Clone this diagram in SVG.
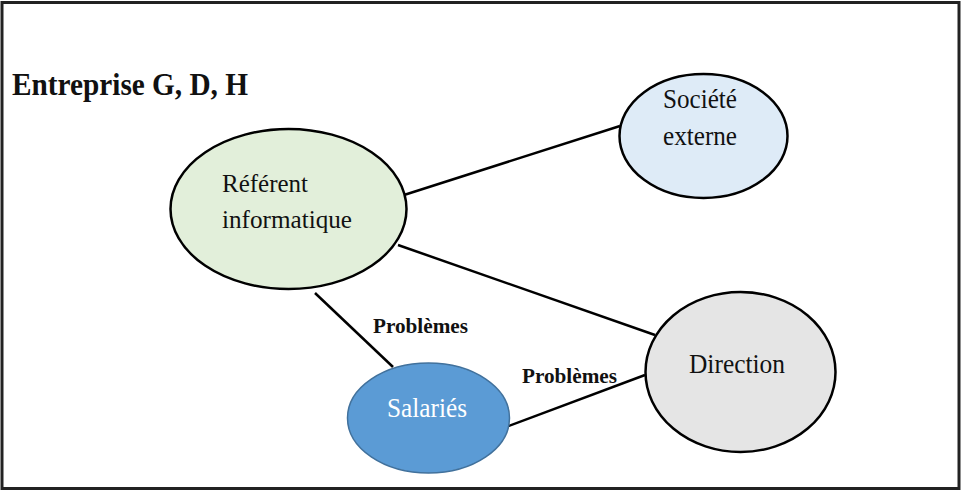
<svg xmlns="http://www.w3.org/2000/svg" width="962" height="491" viewBox="0 0 962 491">
<style>
.node{stroke:#000;stroke-width:2.5}
.edge{stroke:#000;stroke-width:2.5;fill:none}
text{font-family:'Liberation Serif',serif;fill:#111}
.pb{font-weight:bold;font-size:21px}
</style>
<rect x="2" y="2.5" width="957" height="486" fill="#fff" stroke="#222" stroke-width="3"/>
<text x="12" y="95" font-family="Liberation Serif, serif" font-weight="bold" font-size="31" textLength="236" lengthAdjust="spacingAndGlyphs">Entreprise G, D, H</text>
<g id="connectors">
<line class="edge" x1="404" y1="195" x2="620" y2="126"/>
<line class="edge" x1="398" y1="245" x2="655" y2="335"/>
<line class="edge" x1="315" y1="293" x2="393" y2="367"/>
<line class="edge" x1="506" y1="427" x2="645" y2="375"/>
<text class="pb" font-family="Liberation Serif, serif" x="373" y="333" textLength="95" lengthAdjust="spacingAndGlyphs">Problèmes</text>
<text class="pb" font-family="Liberation Serif, serif" x="522" y="383" textLength="95" lengthAdjust="spacingAndGlyphs">Problèmes</text>
</g>
<g id="referent">
<ellipse class="node" cx="288.5" cy="209" rx="118" ry="80" fill="#E2EFDA"/>
<text font-family="Liberation Serif, serif" x="222" y="192" font-size="26" textLength="86" lengthAdjust="spacingAndGlyphs">Référent</text>
<text font-family="Liberation Serif, serif" x="222" y="228" font-size="26" textLength="130" lengthAdjust="spacingAndGlyphs">informatique</text>
</g>
<g id="societe">
<ellipse class="node" cx="703.5" cy="136" rx="84" ry="62" fill="#DEEBF7"/>
<text font-family="Liberation Serif, serif" x="663" y="108" font-size="27" textLength="74" lengthAdjust="spacingAndGlyphs">Société</text>
<text font-family="Liberation Serif, serif" x="663" y="145" font-size="27" textLength="74" lengthAdjust="spacingAndGlyphs">externe</text>
</g>
<g id="salaries">
<ellipse cx="428.5" cy="418" rx="81" ry="55" fill="#5B9BD5" stroke="#41719C" stroke-width="1.5"/>
<text font-family="Liberation Serif, serif" x="387" y="417" font-size="28" style="fill:#fff" textLength="80" lengthAdjust="spacingAndGlyphs">Salariés</text>
</g>
<g id="direction">
<ellipse class="node" cx="740.5" cy="372" rx="95" ry="80" fill="#E5E5E5"/>
<text font-family="Liberation Serif, serif" x="689" y="373" font-size="28" textLength="96" lengthAdjust="spacingAndGlyphs">Direction</text>
</g>
</svg>
